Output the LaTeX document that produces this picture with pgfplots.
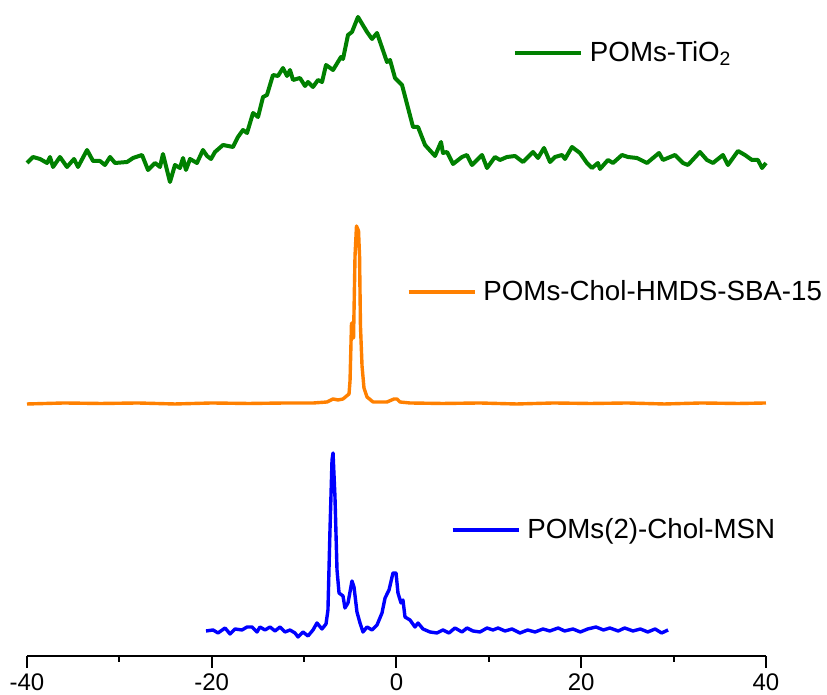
\documentclass[border=0pt]{standalone}
\usepackage{fontspec}
\setmainfont{Liberation Sans}
\usepackage{pgfplots}
\pgfplotsset{compat=1.18}

\definecolor{trGreen}{RGB}{0,128,0}
\definecolor{trOrange}{RGB}{255,128,0}
\definecolor{trBlue}{RGB}{0,0,255}

% common geometry of the three stacked spectra
\pgfplotsset{
  stackframe/.style={
    at={(0pt,0pt)}, anchor=south west,
    scale only axis, width=369.5pt, height=328pt,
    xmin=-40, xmax=40, ymin=0, ymax=656,
    clip=false,
    legend style={draw=none, fill=none, inner sep=0pt, outer sep=0pt,
      nodes={inner sep=0pt, font=\fontsize{13.85pt}{16pt}\selectfont},
      legend cell align=left},
    legend image code/.code={\draw[##1] (0pt,0pt) -- (33pt,0pt); \path (36.5pt,0pt);},
  },
}

\begin{document}
\begin{tikzpicture}
\useasboundingbox (-13.5pt,-19.5pt) rectangle (400pt,328pt);

% axis with the chemical shift scale
\begin{axis}[stackframe,
  axis y line=none, axis x line*=bottom,
  axis line style={line width=1pt, -},
  xtick={-40,-20,0,20,40}, xticklabels={-40,-20,0,20,40},
  minor xtick={-30,-10,10,30},
  tick align=outside, major tick length=6pt, minor tick length=3pt,
  tick style={line width=1pt, black},
  ytick=\empty,
  xticklabel style={font=\fontsize{12pt}{14pt}\selectfont, inner sep=0pt, yshift=-2.5pt},
  legend style={at={(axis cs:12.61,603)}, anchor=west},
]
\addplot[trGreen, line width=2pt, line join=round] coordinates {
(-40,493) (-39.35,499) (-38.59,497) (-37.83,493) (-37.51,499) (-37.18,489)
(-36.43,499) (-35.67,489) (-34.91,497) (-34.48,489) (-33.50,506) (-32.85,495)
(-32.10,495) (-31.56,491) (-31.01,499) (-30.47,493) (-29.17,494) (-28.52,498)
(-27.55,501) (-26.90,486) (-26.14,493) (-25.60,489) (-25.28,502) (-24.52,474)
(-23.98,491) (-23.44,488) (-23.11,498) (-22.79,486) (-22.35,497) (-21.60,493)
(-20.95,506) (-20.51,500) (-20.08,497) (-19.65,504) (-18.78,511) (-17.70,509)
(-17.16,519) (-16.62,526) (-16.18,523) (-15.53,543) (-14.99,539) (-14.45,559)
(-14.02,561) (-13.37,581) (-12.83,580) (-12.29,588) (-11.85,580) (-11.53,586)
(-11.20,576) (-10.45,578) (-9.90,570) (-9.58,574) (-9.04,569) (-8.50,576)
(-8.06,574) (-7.63,591) (-6.87,586) (-6.01,599) (-5.79,597) (-5.25,621)
(-4.82,624) (-4.17,639) (-3.19,624) (-2.65,617) (-2.11,623) (-1.03,594)
(-0.70,596) (-0.16,578) (0.60,571) (1.79,529) (2.33,529) (3.09,511)
(4.17,500) (4.82,514) (5.03,503) (5.47,504) (6.12,492) (7.09,499)
(7.63,501) (8.17,491) (9.26,501) (9.80,488) (10.66,499) (11.20,496)
(11.96,499) (12.83,500) (13.69,494) (14.78,504) (15.32,498) (15.97,508)
(16.62,494) (17.16,499) (17.92,501) (18.24,497) (19.00,509) (19.86,503)
(20.62,493) (21.16,488) (21.81,493) (22.03,487) (22.89,496) (23.44,493)
(24.41,501) (25.06,499) (26.03,498) (27.12,493) (28.42,503) (28.85,496)
(30.15,501) (31.01,493) (31.55,491) (32.85,504) (33.61,496) (34.26,493)
(35.34,501) (35.88,491) (36.97,505) (37.72,501) (38.48,496) (39.13,496)
(39.57,488) (40,493)
};
\addlegendentry{POMs-TiO\textsubscript{2}}
\end{axis}

% middle spectrum
\begin{axis}[stackframe, hide axis,
  legend style={at={(axis cs:1.14,364)}, anchor=west},
]
\addplot[trOrange, line width=1.7pt, line join=round] coordinates {
(-40,252) (-36,253) (-32,252.5) (-28,253) (-24,252) (-20,253) (-16,252.5)
(-12,253) (-9,253) (-7.52,254) (-6.87,257) (-6.33,256) (-5.79,257) (-5.14,262)
(-5.03,275) (-4.87,333) (-4.76,333) (-4.65,318) (-4.49,400) (-4.33,430)
(-4.11,425) (-4.00,400) (-3.90,330) (-3.73,290) (-3.52,268) (-3.19,259)
(-2.54,254) (-1.03,254) (-0.27,257) (0.05,257) (0.38,254) (1.46,253)
(5,252.5) (9,253) (13,252) (17,253) (21,252.5) (25,253) (29,252)
(33,253) (37,252.5) (40,253)
};
\addlegendentry{POMs-Chol-HMDS-SBA-15}
\end{axis}

% lower spectrum
\begin{axis}[stackframe, hide axis,
  legend style={at={(axis cs:5.90,126)}, anchor=west},
]
\addplot[trBlue, line width=1.7pt, line join=round] coordinates {
(-20.62,25) (-19.86,26) (-19.32,23) (-18.56,28) (-18.02,22) (-17.48,27)
(-16.72,26) (-16.18,29) (-15.64,29) (-15.10,24) (-14.78,29) (-14.23,26)
(-13.69,29) (-13.15,25) (-12.61,29) (-12.07,24) (-11.53,26) (-10.99,23)
(-10.66,19) (-10.12,24) (-9.58,20) (-9.04,26) (-8.61,33) (-8.07,27)
(-7.63,32) (-7.42,46) (-7.20,126) (-6.98,196) (-6.87,203) (-6.66,159)
(-6.44,86) (-6.22,63) (-5.79,60) (-5.58,48) (-5.25,53) (-4.82,75)
(-4.60,69) (-4.28,44) (-3.95,33) (-3.63,24) (-3.19,29) (-2.65,26)
(-2.11,31) (-1.57,43) (-1.24,58) (-0.81,66) (-0.38,83) (-0.05,83)
(0.16,63) (0.49,53) (0.70,56) (0.92,39) (1.46,36) (2.00,29)
(2.33,33) (2.87,27) (3.63,24) (4.38,23) (5.03,26) (5.68,23)
(6.33,28) (7.09,24) (7.63,28) (8.28,25) (9.04,24) (9.80,28)
(10.45,26) (10.99,28) (11.75,25) (12.50,27) (13.37,23) (14.20,26)
(15.00,24) (15.86,27) (16.60,25) (17.50,28) (18.20,25) (19.10,27)
(19.90,24) (20.70,27) (21.60,29) (22.40,26) (23.10,28) (24.00,25)
(24.70,28) (25.60,25) (26.40,27) (27.20,24) (28.00,27) (28.70,23)
(29.40,26)
};
\addlegendentry{POMs(2)-Chol-MSN}
\end{axis}
\end{tikzpicture}
\end{document}
